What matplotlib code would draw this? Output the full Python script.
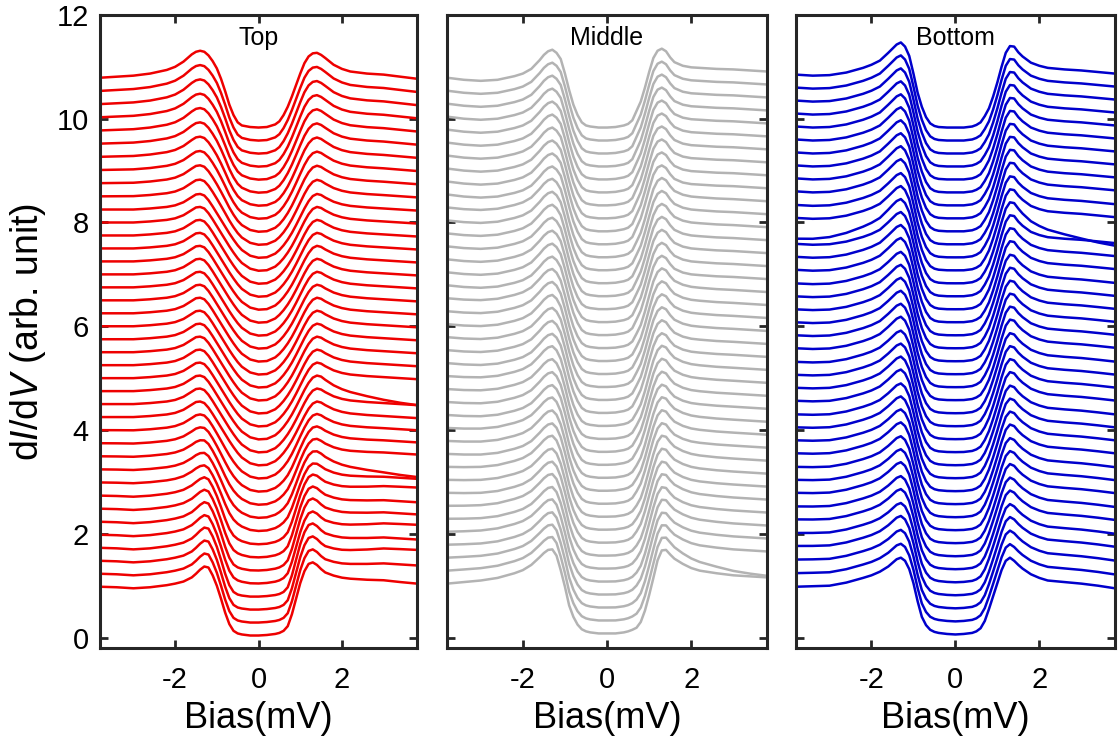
import matplotlib
matplotlib.use("Agg")
import matplotlib.pyplot as plt
import numpy as np

# Bias grid (mV) shared by all spectra
BIAS = [-3.8, -3.4, -3.0, -2.6, -2.2, -2.0, -1.8, -1.6,
        -1.5, -1.4, -1.3, -1.2, -1.1, -1.0, -0.9, -0.8, -0.7, -0.6, -0.5, -0.4,
        -0.2, 0.0, 0.2,
        0.4, 0.5, 0.6, 0.7, 0.8, 0.9, 1.0, 1.1, 1.2, 1.3, 1.4, 1.5, 1.6,
        1.8, 2.0, 2.2, 2.6, 3.0, 3.4, 3.8]

# weight of a per-curve background shift on each side of the gap
LEFT_TAIL = [1.0, 0.9, 0.75, 0.55, 0.35, 0.25, 0.15, 0.05,
             0, 0, 0, 0, 0, 0, 0, 0, 0, 0, 0, 0,
             0, 0, 0,
             0, 0, 0, 0, 0, 0, 0, 0, 0, 0, 0, 0, 0,
             0, 0, 0, 0, 0, 0, 0]
RIGHT_TAIL = LEFT_TAIL[::-1]

# --- Top: normalised dI/dV profiles
TOP_SHARP = [0.98, 0.97, 0.95, 0.97, 1.01, 1.04, 1.08, 1.16,
             1.23, 1.31, 1.37, 1.35, 1.20, 1.00, 0.75, 0.48, 0.26, 0.13, 0.08, 0.06,
             0.04, 0.04, 0.05,
             0.07, 0.09, 0.13, 0.22, 0.45, 0.75, 1.05, 1.28, 1.42, 1.45, 1.40, 1.32, 1.26,
             1.21, 1.18, 1.17, 1.17, 1.18, 1.16, 1.14]
TOP_BROAD = [1.00, 1.00, 1.00, 1.02, 1.05, 1.08, 1.14, 1.24,
             1.29, 1.30, 1.27, 1.18, 1.06, 0.93, 0.80, 0.67, 0.54, 0.42, 0.31, 0.22,
             0.11, 0.07, 0.08,
             0.15, 0.22, 0.31, 0.42, 0.55, 0.70, 0.86, 1.02, 1.16, 1.26, 1.30, 1.28, 1.23,
             1.15, 1.10, 1.07, 1.04, 1.02, 1.00, 0.98]
TOP_UPPER = [1.04, 1.06, 1.08, 1.12, 1.19, 1.25, 1.35, 1.49,
             1.54, 1.56, 1.54, 1.47, 1.36, 1.22, 1.02, 0.78, 0.52, 0.32, 0.18, 0.12,
             0.09, 0.08, 0.09,
             0.14, 0.20, 0.32, 0.48, 0.68, 0.90, 1.12, 1.32, 1.45, 1.51, 1.52, 1.48, 1.42,
             1.29, 1.21, 1.16, 1.12, 1.10, 1.06, 1.02]
TOP_MIX = [0.0, 0.0, 0.0, 0.0, 0.1, 0.1, 0.2, 0.3, 0.5, 0.6,
           0.7, 0.8, 0.9, 1.0, 1.0, 1.0, 1.0, 1.0, 1.0, 1.0,
           1.0, 1.0, 1.0, 1.0, 1.0, 1.0, 1.0, 1.0, 1.0, 1.0,
           1.1, 1.2, 1.3, 1.4, 1.5, 1.6, 1.7, 1.8, 1.9, 2.0]
TOP_LEFT_DEV = [0.0] * 40
TOP_RIGHT_DEV = [-0.10, 0.0, 0.05, 0.0, 0.05, 0.0, 0.0, 0.05, 0.0, -0.20,
                 0.0, 0.0, 0.0, 0.0, 0.0, -0.25, 0.0, 0.0, 0.0, 0.0,
                 0.0, 0.0, 0.0, 0.0, 0.0, 0.0, 0.0, 0.0, 0.0, 0.0,
                 0.0, 0.0, 0.0, 0.0, 0.0, 0.0, 0.0, 0.0, 0.0, 0.0]

# --- Middle
MID_LOW = [1.04, 1.07, 1.10, 1.15, 1.24, 1.30, 1.40, 1.55,
           1.63, 1.69, 1.70, 1.58, 1.30, 0.98, 0.62, 0.40, 0.25, 0.16, 0.12, 0.10,
           0.08, 0.08, 0.08,
           0.10, 0.12, 0.15, 0.19, 0.30, 0.52, 0.82, 1.15, 1.49, 1.68, 1.69, 1.60, 1.52,
           1.42, 1.34, 1.29, 1.24, 1.20, 1.18, 1.16]
MID_HIGH = [1.04, 1.00, 0.98, 1.00, 1.07, 1.12, 1.21, 1.38,
            1.48, 1.55, 1.58, 1.52, 1.40, 1.12, 0.80, 0.52, 0.32, 0.18, 0.12, 0.10,
            0.08, 0.08, 0.09,
            0.12, 0.15, 0.22, 0.40, 0.58, 0.85, 1.15, 1.42, 1.56, 1.60, 1.55, 1.43, 1.34,
            1.27, 1.24, 1.23, 1.21, 1.20, 1.18, 1.16]
MID_MIX = [0.0, 0.1, 0.2, 0.3, 0.3, 0.4, 0.4, 0.5, 0.5, 0.5,
           0.6, 0.6, 0.6, 0.7, 0.7, 0.7, 0.7, 0.8, 0.8, 0.8,
           0.8, 0.8, 0.8, 0.9, 0.9, 0.9, 0.9, 0.9, 0.9, 0.9,
           1.0, 1.0, 1.0, 1.0, 1.0, 1.0, 1.0, 1.0, 1.0, 1.0]
MID_LEFT_DEV = [0.0] * 40
MID_RIGHT_DEV = [0.0, -0.22, 0.0, 0.0, 0.0, 0.0, 0.0, 0.0, 0.0, 0.0,
                 0.0, 0.0, 0.0, 0.0, 0.0, 0.0, 0.0, 0.0, 0.0, 0.0,
                 0.0, 0.0, 0.0, 0.0, 0.0, 0.0, 0.0, 0.0, 0.0, 0.0,
                 0.0, 0.0, 0.0, 0.0, 0.0, 0.0, 0.0, 0.0, 0.0, 0.0]

# --- Bottom
BOT_LOW = [0.98, 0.99, 1.00, 1.06, 1.15, 1.20, 1.27, 1.37,
           1.44, 1.51, 1.54, 1.48, 1.32, 1.05, 0.70, 0.40, 0.24, 0.15, 0.11, 0.09,
           0.07, 0.06, 0.07,
           0.09, 0.12, 0.18, 0.32, 0.55, 0.80, 1.05, 1.30, 1.48, 1.54, 1.48, 1.40, 1.33,
           1.22, 1.15, 1.10, 1.07, 1.04, 1.00, 0.95]
BOT_HIGH = [1.10, 1.08, 1.09, 1.14, 1.23, 1.29, 1.37, 1.52,
            1.60, 1.68, 1.72, 1.64, 1.46, 1.12, 0.75, 0.48, 0.28, 0.16, 0.11, 0.09,
            0.08, 0.08, 0.08,
            0.10, 0.13, 0.18, 0.30, 0.45, 0.68, 0.95, 1.25, 1.52, 1.65, 1.64, 1.53, 1.45,
            1.33, 1.27, 1.23, 1.20, 1.18, 1.15, 1.12]
BOT_MIX = [0.0, 0.1, 0.2, 0.3, 0.3, 0.4, 0.4, 0.5, 0.5, 0.5,
           0.6, 0.6, 0.6, 0.6, 0.7, 0.7, 0.7, 0.7, 0.8, 0.8,
           0.8, 0.8, 0.8, 0.8, 0.9, 0.9, 0.9, 0.9, 0.9, 0.9,
           1.0, 1.0, 1.0, 1.0, 1.0, 1.0, 1.0, 1.0, 1.0, 1.0]
BOT_LEFT_DEV = [0.0] * 27 + [-0.15] + [0.0] * 12
BOT_RIGHT_DEV = [0.0] * 27 + [-0.30] + [0.0] * 12

PANEL_TITLES = ["Top", "Middle", "Bottom"]
PANEL_COLORS = ["#ee0000", "#b3b3b3", "#0000cc"]

STEP = 0.25  # vertical offset between successive spectra


def build_curves(profiles, mix, left_dev, right_dev):
    stack = np.array(profiles, dtype=float)
    lt = np.array(LEFT_TAIL)
    rt = np.array(RIGHT_TAIL)
    curves = []
    for i, w in enumerate(mix):
        lo = int(np.floor(w))
        hi = min(lo + 1, len(stack) - 1)
        f = w - lo
        base = (1 - f) * stack[lo] + f * stack[hi]
        curves.append(base + left_dev[i] * lt + right_dev[i] * rt + i * STEP)
    return curves


def style_axes(ax, show_ylabels):
    for sp in ax.spines.values():
        sp.set_linewidth(2.2)
        sp.set_color("#262626")
    ax.set_xlim(-3.8, 3.8)
    ax.set_ylim(-0.2, 12)
    ax.set_xticks([-2, 0, 2])
    ax.set_yticks([0, 2, 4, 6, 8, 10, 12])
    ax.tick_params(direction="in", top=True, right=True, length=6, width=2,
                   color="#262626", labelsize=21, pad=8)
    ax.tick_params(axis="x", pad=13)
    if not show_ylabels:
        ax.set_yticklabels([])
    ax.set_xlabel("Bias(mV)", fontsize=26, labelpad=5)


def main() -> None:
    plt.rcParams["font.family"] = ["Liberation Sans", "DejaVu Sans"]
    plt.rcParams["axes.unicode_minus"] = False
    plt.rcParams["mathtext.fontset"] = "custom"
    plt.rcParams["mathtext.it"] = "Liberation Sans:italic"
    plt.rcParams["mathtext.rm"] = "Liberation Sans"

    panels = [
        build_curves([TOP_SHARP, TOP_BROAD, TOP_UPPER], TOP_MIX, TOP_LEFT_DEV, TOP_RIGHT_DEV),
        build_curves([MID_LOW, MID_HIGH], MID_MIX, MID_LEFT_DEV, MID_RIGHT_DEV),
        build_curves([BOT_LOW, BOT_HIGH], BOT_MIX, BOT_LEFT_DEV, BOT_RIGHT_DEV),
    ]

    fig = plt.figure(figsize=(11.19, 7.51), dpi=100)
    lefts = [0.0894, 0.3995, 0.7113]
    widths = [0.2833, 0.2860, 0.2850]
    for k, curves in enumerate(panels):
        ax = fig.add_axes([lefts[k], 0.1372, widths[k], 0.8429])
        for y in curves:
            ax.plot(BIAS, y, color=PANEL_COLORS[k], lw=1.8, solid_joinstyle="round")
        ax.text(0.0, 11.55, PANEL_TITLES[k], ha="center", va="center", fontsize=18)
        style_axes(ax, show_ylabels=(k == 0))
        if k == 0:
            ax.set_ylabel(r"d$\mathit{I}$/d$\mathit{V}$ (arb. unit)", fontsize=27, labelpad=6)

    fig.savefig("out.png", dpi=100)
    plt.close(fig)


if __name__ == "__main__":
    main()
